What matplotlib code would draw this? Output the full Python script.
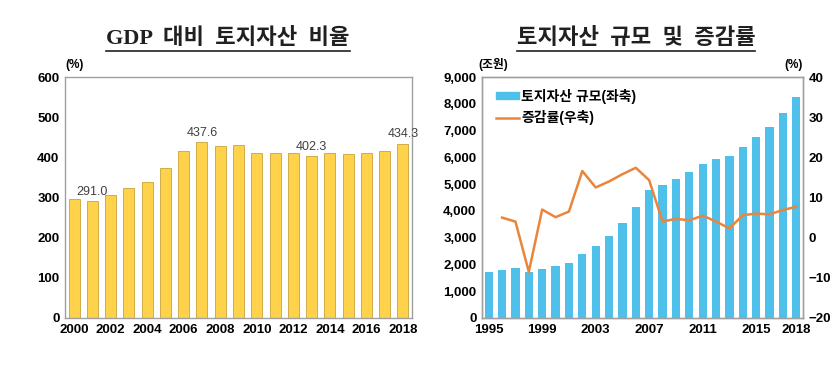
import numpy as np
import matplotlib.pyplot as plt
from matplotlib.lines import Line2D
from matplotlib.patches import Patch

plt.rcParams['font.family'] = ['Liberation Sans', 'Noto Sans CJK KR', 'DejaVu Sans']

# GDP 대비 토지자산 비율
years_l = list(range(2000, 2019))
ratio = [296, 291.0, 305, 323, 339, 373, 417, 437.6, 428, 431, 411, 412, 411,
         402.3, 410, 408, 412, 416, 434.3]
ratio_labels = {2001: "291.0", 2007: "437.6", 2013: "402.3", 2018: "434.3"}

# 토지자산 규모 및 증감률
years_r = list(range(1995, 2019))
land = [1700, 1800, 1875, 1700, 1840, 1940, 2050, 2390, 2700, 3060, 3560, 4160,
        4790, 4960, 5200, 5450, 5740, 5920, 6050, 6390, 6775, 7150, 7640, 8260]
growth = [np.nan, 5.0, 4.0, -8.5, 7.0, 5.1, 6.5, 16.6, 12.5, 14.0, 15.8, 17.4,
          14.3, 4.0, 4.7, 4.3, 5.5, 4.0, 2.3, 5.6, 6.0, 5.8, 6.9, 7.7]
xticks_r = [1995, 1999, 2003, 2007, 2011, 2015, 2018]

yellow = "#FFD24C"
blue = "#4FC0EA"
orange = "#E9853C"
frame = "#A0A0A0"

fig = plt.figure(figsize=(8.39, 3.72), dpi=100)
W, H = 839, 372

def axes_px(x0, y0, x1, y1):
    return fig.add_axes([x0 / W, 1 - y1 / H, (x1 - x0) / W, (y1 - y0) / H])

# ---- left chart
ax1 = axes_px(65, 77, 412, 318)
x = np.arange(len(years_l))
ax1.bar(x, ratio, width=0.6, color=yellow, edgecolor="#C9A23A", linewidth=0.6)
for i, y in enumerate(years_l):
    if y in ratio_labels:
        ax1.text(i, ratio[i] + 8, ratio_labels[y], ha="center", va="bottom",
                 fontsize=9, color="#404040")
ax1.set_xlim(-0.5, len(years_l) - 0.5)
ax1.set_ylim(0, 600)
ax1.set_yticks(range(0, 601, 100))
ax1.set_xticks(x[::2])
ax1.set_xticklabels([str(y) for y in years_l[::2]])
ax1.text(0, 1.025, "(%)", transform=ax1.transAxes, fontsize=8.5, fontweight="bold",
         ha="left", va="bottom")

# ---- right chart
ax2 = axes_px(482, 77, 803, 318)
xr = np.arange(len(years_r))
ax2.bar(xr, land, width=0.62, color=blue, linewidth=0)
ax2.set_xlim(-0.5, len(years_r) - 0.5)
ax2.set_ylim(0, 9000)
ax2.set_yticks(range(0, 9001, 1000))
ax2.set_yticklabels([f"{v:,}" for v in range(0, 9001, 1000)])
ax2.set_xticks([years_r.index(y) for y in xticks_r])
ax2.set_xticklabels([str(y) for y in xticks_r])
ax3 = ax2.twinx()
ax3.plot(xr, growth, color=orange, linewidth=1.8)
ax3.set_ylim(-20, 40)
ax3.set_yticks(range(-20, 41, 10))
ax2.text(-0.01, 1.025, "(조원)", transform=ax2.transAxes, fontsize=8.5,
         fontweight="bold", ha="left", va="bottom")
ax3.text(1.0, 1.025, "(%)", transform=ax3.transAxes, fontsize=8.5, fontweight="bold",
         ha="right", va="bottom")

handles = [Patch(color=blue), Line2D([], [], color=orange, linewidth=1.8)]
leg = ax2.legend(handles, ["토지자산 규모(좌축)", "증감률(우축)"], loc="upper left",
                 frameon=False, fontsize=10, handlelength=1.7, handleheight=0.35,
                 handletextpad=0.15, labelspacing=0.45, borderaxespad=0,
                 bbox_to_anchor=(0.025, 0.975))
for t in leg.get_texts():
    t.set_fontweight("bold")

for ax in (ax1, ax2, ax3):
    for s in ax.spines.values():
        s.set_color(frame)
        s.set_linewidth(1.0)
    ax.tick_params(length=0, labelsize=9.5, pad=4)
    for lab in ax.get_xticklabels() + ax.get_yticklabels():
        lab.set_fontweight("bold")

# ---- titles with underline
def title(cx, cy, s):
    t = fig.text(cx / W, 1 - cy / H, s, ha="center", va="center", fontsize=16,
                 fontweight="bold", color="#202020",
                 family=['Liberation Serif', 'Noto Sans CJK KR'])
    fig.canvas.draw()
    bb = t.get_window_extent()
    yl = bb.y0 - 2
    fig.add_artist(Line2D([bb.x0 / W, bb.x1 / W], [yl / H, yl / H],
                          color="#202020", linewidth=1.2))

title(228, 38, "GDP  대비  토지자산  비율")
title(636, 38, "토지자산  규모  및  증감률")

fig.savefig("out.png", dpi=100)
